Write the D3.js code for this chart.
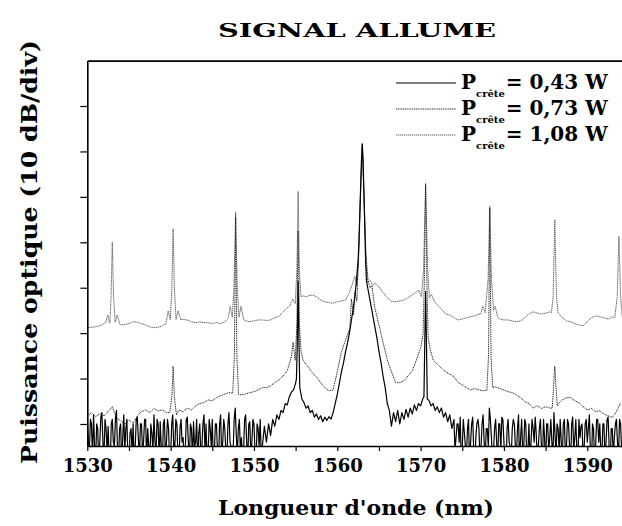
<!DOCTYPE html>
<html>
<head>
<meta charset="utf-8">
<script src="https://cdn.jsdelivr.net/npm/d3@7"></script>
<style>
  body { margin: 0; background: #fff; }
  svg { display: block; }
  text { font-family: "DejaVu Serif", "Liberation Serif", serif; font-weight: bold; fill: #000; }
  .axis path, .axis line { stroke: #000; }
</style>
</head>
<body>
<svg width="622" height="526"></svg>
<script>
// **** spectra (dB, 10 dB/div, arbitrary reference) ****

var series = ["0,43 W", "0,73 W", "1,08 W"];

// 0,43 W : grid from 1530 nm, step 0.25 nm (null = replaced by a peak profile)
var s1Start = 1530, s1Step = 0.25;
var s1Grid = [
  -79, -86, -80, -78, -88, -81, -84, -77.5,       // 1530
  -87, -81, -80.5, -89, -79, -85, -77, -88,       // 1532
  -80, -83, -86, -79, -90, -81, -80, -85,         // 1534
  -78.5, -88, -80, -84, -79, -81, -89, -82,       // 1536
  -78, -86, -80, -79.5, -90, -79, -84, -81,       // 1538
  -88, -78, -85, -80, -89, -79, -83, -86,         // 1540
  -78.5, -88, -81, -79.5, -84, -90, -80, -85,     // 1542
  -78, -80, -87, -81, -79, -86, -80, -89,         // 1544
  -78, -84, -81, -88, -77.5, -85, -86, -76.5,     // 1546
  -87, -79, -83, -86, -78, -88, -79.5, -84,       // 1548
  -80, -89, -81, -79, -85, -80.5, -84, -80,       // 1550
  -82.5, -79, -80.5, -78, -79, -77, -77.5, -75.5, // 1552
  -75.8, -74, -73, -72.5, -71, null, null, -74.5, // 1554
  -75.3, -76.5, -76, -77.5, -77, -78.5, -77.8, -79, // 1556
  -78.2, -79.5, -78.5, -79.2, -78.4, -78.9, -77.5, -75.5, // 1558
  -73.5, -71, -68.5, -66.5, -64, -62, -59.5, -56.5, // 1560
  -53.5, -49.5, -44, null, null, null, -48.5, -51, // 1562
  -53.5, -56, -58.5, -61, -64, -66.5, -69.5, -72, // 1564
  -75.5, -77, -80.5, -77.5, -79.5, -77, -80, -77.5, // 1566
  -79, -76.8, -78.5, -76.5, -77.8, -75.8, -77, -75.5, // 1568
  -76, -74.5, null, null, -74.8, -76, -75.5, -77, // 1570
  -76.2, -77.5, -76.5, -78.5, -77.5, -79.5, -78, -81, // 1572
  -79, -83, -80, -78.5, -85, -82, -87, -79,       // 1574
  -84, -78.5, -89, -80, -81, -85, -78, -88,       // 1576
  -81, -76.5, -83, -86, -79, -88, -80, -78.5,     // 1578
  -84, -90, -79, -85, -81, -80, -87, -78,         // 1580
  -83, -86, -79, -89, -80, -84, -81, -78.5,       // 1582
  -88, -81, -85, -79, -90, -80, -83, -84,         // 1584
  -77.5, -87, -81, -79, -88, -79, -85, -80,       // 1586
  -89, -78.5, -83, -86, -79, -80.5, -88, -80,     // 1588
  -84, -78, -90, -81, -85, -79, -80, -87,         // 1590
  -80, -84, -78.5, -89, -81, -83, -79, -87,       // 1592
  -80, -85                                        // 1594
];
// noise read between the grid samples, left and right of the pump
var s1MidLeftStart = 1530.125;
var s1MidLeft = [
  -84, -79, -87, -85, -80, -89, -78.5, -84,       // 1530.125
  -79, -86, -88, -80, -84, -79, -86, -81,         // 1532.125
  -89, -78, -81, -88, -82, -86, -89, -79,         // 1534.125
  -83, -80, -86, -79, -88, -85, -80, -86,         // 1536.125
  -84, -79, -88, -85, -80, -87, -79, -88,         // 1538.125
  -80, -85, -79, -87, -81, -84, -89, -79,         // 1540.125
  -84, -80, -88, -85, -79, -82, -87, -80,         // 1542.125
  -86, -88, -79, -85, -89, -80, -86, -80,         // 1544.125
  -87, -79, -86, -80, -84, -88, -79, -82,         // 1546.125
  -81, -86, -88, -79, -84, -80, -87, -79,         // 1548.125
  -86, -80, -85, -87                              // 1550.125
];
var s1MidRightStart = 1574.125;
var s1MidRight = [
  -86, -80, -84, -88, -79, -85, -81, -89,         // 1574.125
  -80, -86, -83, -79, -88, -80, -84, -81,         // 1576.125
  -85, -79, -89, -81, -84, -80, -86, -79,         // 1578.125
  -88, -81, -84, -87, -79, -85, -81, -89,         // 1580.125
  -79, -85, -80, -86, -88, -79, -84, -82,         // 1582.125
  -85, -79, -88, -83, -80, -86, -79, -88,         // 1584.125
  -82, -80, -86, -84, -80, -87, -79, -85,         // 1586.125
  -80, -86, -79, -88, -83, -80, -85, -79,         // 1588.125
  -81, -86, -80, -88, -79, -84, -86, -80,         // 1590.125
  -88, -79, -85, -81, -87, -80, -84, -79,         // 1592.125
  -86                                             // 1594.125
];
var s1Peaks = [
  [1555.1, -70], [1555.2, -62], [1555.3, -48.6], [1555.4, -62], [1555.5, -72],
  [1562.6, -40], [1562.75, -31], [1562.9, -22], [1563.0, -18.4], [1563.1, -22], [1563.25, -33], [1563.4, -44],
  [1570.4, -74], [1570.5, -62], [1570.6, -50.8], [1570.7, -62], [1570.8, -74.5]
];

// 0,73 W : grid from 1530 nm, step 0.5 nm
var s2Start = 1530, s2Step = 0.5;
var s2Grid = [
  -78.2, -77.5, -78.4, -77.7, -78.2, -77.3, -76.2, -78.6, // 1530
  -79.3, -80.0, -79.1, -79.8, -78.2, -77.3, -76.9, -77.5, // 1534
  -76.6, -77.1, -76.9, -77.5, null, null, -76.9, -77.3,   // 1538
  -76.5, -76.9, -76.0, -75.5, -75.3, -74.7, -74.9, -74.2, // 1542
  -73.8, -73.4, -73.1, null, null, -73.6, -73.4, -73.1,   // 1546
  -72.9, -72.5, -72.0, -72.0, -71.6, -70.9, -70.3, -69.4, // 1550
  -68.3, -65.0, null, null, -66.3, -67.4, -68.7, -69.6,   // 1554
  -70.9, -72.0, -72.7, -72.5, -68.5, -64.1, -61.5, -58.9, // 1558
  null, null, null, null, null, -54.4, -58.2, -62.1,      // 1562
  -65.9, -68.5, -70.9, -70.9, -70.5, -69.4, -68.3, -65.9, // 1566
  -63.2, null, null, -65.9, -66.8, -67.7, -68.5, -69.0,   // 1570
  -69.6, -70.9, -71.4, -72.0, -72.5, -72.2, -72.5, -72.7, // 1574
  null, null, -71.8, -72.2, -72.5, -72.9, -73.1, -73.6,   // 1578
  -74.2, -75.1, -75.5, -76.5, -76.0, -76.6, -76.2, -76.5, // 1582
  null, -75.6, -74.7, -74.2, -74.2, -74.9, -75.3, -76.2,  // 1586
  -76.9, -76.6, -77.3, -77.1, -77.8, -78.2, -78.6, -77.3, // 1590
  -75.3                                                   // 1594
];
var s2Peaks = [
  [1539.9, -77.5], [1540.15, -74], [1540.3, -67.3], [1540.45, -74], [1540.7, -78],
  [1547.45, -73.2], [1547.65, -65], [1547.8, -34.5], [1547.95, -65], [1548.15, -73.5],
  [1554.7, -62], [1554.95, -66], [1555.15, -58], [1555.3, -37.5], [1555.45, -58], [1555.65, -64], [1555.9, -66],
  [1561.7, -52.5], [1561.95, -56], [1562.15, -51], [1562.35, -53], [1562.55, -43], [1562.75, -31],
  [1563.0, -18.5], [1563.25, -33], [1563.45, -43], [1563.7, -48.5], [1563.95, -50], [1564.15, -49.5],
  [1570.05, -63], [1570.3, -60], [1570.45, -48], [1570.6, -27.5], [1570.75, -48], [1570.9, -61], [1571.15, -63.5],
  [1577.95, -72.6], [1578.15, -65], [1578.3, -32.5], [1578.45, -65], [1578.65, -72],
  [1585.8, -76.5], [1585.95, -72], [1586.1, -67.3], [1586.25, -72], [1586.4, -76]
];

// 1,08 W : grid from 1530 nm, step 0.5 nm
var s3Start = 1530, s3Step = 0.5;
var s3Grid = [
  -58.8, -58.7, -58.6, -58.4, -57.9, null, null, null,    // 1530
  -58.2, -58.1, -57.9, -57.5, -57.6, -57.9, -58.2, -58.6, // 1534
  -58.8, -58.7, -58.4, null, null, null, null, -57.0,     // 1538
  -57.1, -57.5, -57.7, -57.5, -57.7, -57.7, -57.9, -57.7, // 1542
  -57.9, -57.5, null, null, null, null, -57.3, -57.5,     // 1546
  -57.3, -57.1, -57.1, -57.2, -57.1, -56.6, -56.3, -55.3, // 1550
  -54.4, null, null, null, null, -51.8, -51.6, -52.0,     // 1554
  -52.7, -53.1, -53.3, -53.4, -53.1, -52.9, -52.7, -50.9, // 1558
  null, null, null, null, null, -49.0, -49.8, -51.1,      // 1562
  -52.2, -53.0, -53.1, -52.9, -52.7, -52.2, -51.6, -50.9, // 1566
  null, null, null, null, -53.8, -54.7, -55.8, -56.0,     // 1570
  -56.6, -57.1, -56.9, -56.6, -56.4, -56.2, -55.8, null,  // 1574
  null, null, null, -56.9, -57.1, -57.1, -57.3, -57.5,    // 1578
  -57.3, -56.6, -55.8, -55.3, -55.6, -55.8, -55.6, -55.3, // 1582
  null, null, -56.6, -57.3, -57.5, -57.9, -58.2, -58.4,   // 1586
  -57.5, -56.6, -56.2, -56.4, -56.6, -56.9, -56.4, null,  // 1590
  null                                                    // 1594
];
var s3Peaks = [
  [1532.2, -57.8], [1532.45, -56.0], [1532.7, -57.8], [1532.85, -52], [1533.0, -40], [1533.15, -52], [1533.35, -57.6], [1533.6, -56.0], [1533.9, -58.0],
  [1539.45, -57.9], [1539.7, -55.1], [1539.95, -57], [1540.15, -50], [1540.3, -37], [1540.45, -50], [1540.65, -57], [1540.9, -55.1], [1541.2, -57],
  [1546.9, -56.8], [1547.15, -54.1], [1547.4, -56.5], [1547.6, -50], [1547.8, -33.3], [1548.0, -50], [1548.2, -56.5], [1548.45, -54.1], [1548.75, -57],
  [1554.3, -54], [1554.65, -52.5], [1554.95, -53.5], [1555.15, -46], [1555.3, -28.8], [1555.45, -46], [1555.65, -52], [1555.95, -51.8], [1556.3, -52],
  [1561.75, -49.5], [1562.1, -47.5], [1562.35, -49.5], [1562.55, -44], [1562.75, -32], [1563.0, -18.2], [1563.25, -32], [1563.45, -45], [1563.65, -48.8], [1563.95, -48.3], [1564.25, -49.5],
  [1569.55, -50.9], [1569.8, -50.6], [1570.1, -52], [1570.35, -46], [1570.6, -27], [1570.85, -46], [1571.05, -52.2], [1571.3, -51.5], [1571.65, -53],
  [1577.2, -55.8], [1577.45, -54.1], [1577.75, -55.5], [1578.1, -48], [1578.3, -32], [1578.5, -48], [1578.75, -55], [1578.95, -54.1], [1579.25, -56.5],
  [1585.7, -55.5], [1585.9, -52], [1586.1, -35], [1586.3, -52], [1586.5, -55.5],
  [1593.3, -56.6], [1593.6, -52], [1593.8, -38.7], [1594.0, -52], [1594.2, -56.5]
];

var xMajor = [1530, 1540, 1550, 1560, 1570, 1580, 1590];
var xMinor = [1530, 1535, 1540, 1545, 1550, 1555, 1560, 1565, 1570, 1575, 1580, 1585, 1590, 1595];
var yTicks = [-80, -70, -60, -50, -40, -30, -20, -10];

// **** scales, axes ****

var svg = d3.select('svg');

var xScale = d3.scaleLinear().domain([1530, 1600]).range([87.3, 670.6]);
var yScale = d3.scaleLinear().domain([-84.85, 0]).range([446, 60.6]);

function gridPoints(start, step, grid) {
    var pts = [];
    grid.forEach(function(v, i) {
        if (v !== null) pts.push([start + i * step, v]);
    });
    return pts;
}

function joinSorted(parts) {
    var pts = [].concat.apply([], parts);
    pts.sort(function(a, b) { return a[0] - b[0]; });
    return pts;
}

var data = [
    joinSorted([gridPoints(s1Start, s1Step, s1Grid),
                gridPoints(s1MidLeftStart, s1Step, s1MidLeft),
                gridPoints(s1MidRightStart, s1Step, s1MidRight),
                s1Peaks]),
    joinSorted([gridPoints(s2Start, s2Step, s2Grid), s2Peaks]),
    joinSorted([gridPoints(s3Start, s3Step, s3Grid), s3Peaks])
];

var styles = [
    {stroke: '#000', width: 1.2, dash: null},
    {stroke: '#111', width: 1, dash: '1,0.8'},
    {stroke: '#555', width: 0.9, dash: '1.4,0.6'}
];

svg.append('clipPath').attr('id', 'plotClip')
    .append('rect')
    .attr('x', 87.3).attr('y', 60.6)
    .attr('width', 600).attr('height', 446 - 60.6);

var line = d3.line()
    .x(function(d) { return xScale(d[0]); })
    .y(function(d) { return yScale(d[1]); });

var plot = svg.append('g').attr('clip-path', 'url(#plotClip)');

// gray first, solid on top
[2, 1, 0].forEach(function(k) {
    plot.append('path')
        .datum(data[k])
        .attr('d', line)
        .attr('fill', 'none')
        .attr('stroke', styles[k].stroke)
        .attr('stroke-width', styles[k].width)
        .attr('stroke-dasharray', styles[k].dash)
        .attr('stroke-linejoin', 'round');
});

// bottom axis: minor ticks without labels, labels on the 10 nm ones
var xAxis = svg.append('g').attr('class', 'x axis')
    .attr('transform', 'translate(0,446)')
    .call(d3.axisBottom(xScale).tickValues(xMinor).tickSize(5).tickSizeOuter(0)
        .tickPadding(8)
        .tickFormat(function(d) { return xMajor.indexOf(d) >= 0 ? d : ''; }));
xAxis.select('.domain').attr('stroke-width', 1.6);
xAxis.selectAll('.tick line').attr('stroke-width', 1.2);
xAxis.selectAll('text')
    .style('font-size', '18px')
    .style('font-weight', 'bold')
    .style('font-family', '"DejaVu Serif", serif');

var yAxis = svg.append('g').attr('class', 'y axis')
    .attr('transform', 'translate(87.3,0)')
    .call(d3.axisLeft(yScale).tickValues(yTicks).tickSize(7).tickSizeOuter(0).tickFormat(''));
yAxis.select('.domain').attr('stroke-width', 1.6);
yAxis.selectAll('.tick line').attr('stroke-width', 1.2);

var topAxis = svg.append('g').attr('class', 'axis')
    .attr('transform', 'translate(0,60.6)')
    .call(d3.axisTop(xScale).tickValues([]).tickSizeOuter(0));
topAxis.select('.domain').attr('stroke-width', 1.6);

// **** labels ****

svg.append('text')
    .text('SIGNAL ALLUME')
    .attr('x', 357).attr('y', 37)
    .attr('text-anchor', 'middle')
    .attr('textLength', 278)
    .attr('lengthAdjust', 'spacingAndGlyphs')
    .style('font-size', '18px');

svg.append('text')
    .text("Longueur d'onde (nm)")
    .attr('x', 356).attr('y', 515)
    .attr('text-anchor', 'middle')
    .attr('textLength', 276)
    .attr('lengthAdjust', 'spacingAndGlyphs')
    .style('font-size', '21px');

svg.append('text')
    .text('Puissance optique (10 dB/div)')
    .attr('text-anchor', 'middle')
    .attr('textLength', 424)
    .attr('lengthAdjust', 'spacingAndGlyphs')
    .attr('transform', 'translate(37,252) rotate(-90)')
    .style('font-size', '23px');

// **** legend ****

var legend = svg.append('g');
series.forEach(function(name, i) {
    var yy = 83 + i * 26;
    legend.append('line')
        .attr('x1', 396).attr('x2', 456)
        .attr('y1', yy).attr('y2', yy)
        .attr('stroke', styles[i].stroke)
        .attr('stroke-width', styles[i].width)
        .attr('stroke-dasharray', styles[i].dash);
    var t = legend.append('text')
        .attr('x', 461).attr('y', yy + 6)
        .style('font-size', '20px');
    t.append('tspan').text('P');
    t.append('tspan').text('crête').attr('dy', 8).style('font-size', '10px');
    t.append('tspan').text('= ' + name).attr('dy', -8).attr('dx', 1);
});
</script>
</body>
</html>
